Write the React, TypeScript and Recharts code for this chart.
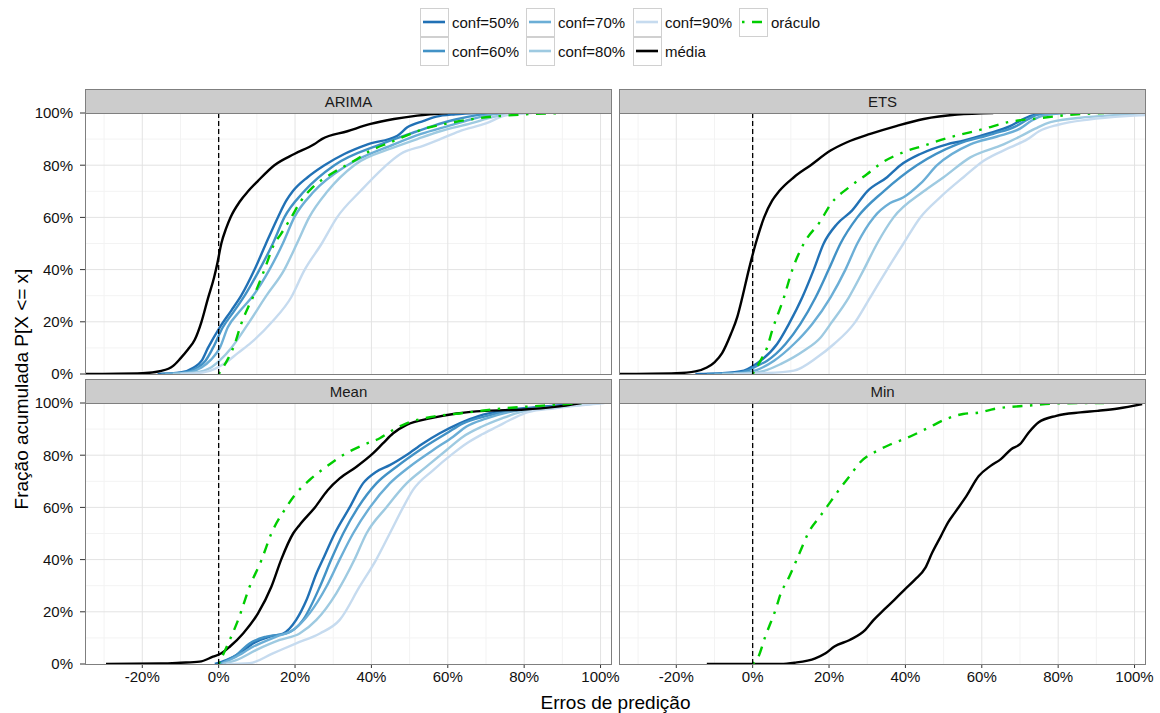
import { LineChart, Line, XAxis, YAxis, ReferenceLine } from "recharts";

type Pt = [number, number];

// axis values
const xTicks = [-20, 0, 20, 40, 60, 80, 100];
const xMinor = [-30, -10, 10, 30, 50, 70, 90];
const yTicks = [0, 20, 40, 60, 80, 100];
const yMinor = [10, 30, 50, 70, 90];
const xDomain: [number, number] = [-35, 103];

const seriesNames = ["conf=50%", "conf=60%", "conf=70%", "conf=80%", "conf=90%", "média", "oráculo"];
const panelNames = ["ARIMA", "ETS", "Mean", "Min"];

// ARIMA: [erro %, fração %]
const arimaConf50: Pt[] = [[-16, 0], [-10, 0.6], [-6.5, 2.5], [-4.5, 5], [-2.8, 10], [0.3, 17.9], [3.3, 24.3], [5.9, 30], [9.4, 40], [12.4, 50], [15.5, 60], [17.7, 66.4], [19.4, 70], [23.3, 75.4], [27.7, 80], [32.9, 84.3], [39, 88], [46.8, 91.3], [49.4, 94.5], [53.7, 97], [57, 98.6], [62, 99.5], [68, 100]];
const arimaConf60: Pt[] = [[-15, 0], [-9, 0.6], [-5.5, 2.5], [-3.5, 5], [-1.5, 10], [1.1, 17.9], [4, 24], [6.8, 30], [10.7, 40], [14.2, 50], [17.2, 60], [22.4, 70], [30.3, 80], [42.4, 88], [50, 92], [56, 95], [62, 97.5], [68, 99.3], [72, 100]];
const arimaConf70: Pt[] = [[-14, 0], [-8, 0.6], [-4.5, 2.5], [-2, 5.5], [0.3, 10], [2.4, 17.9], [5.5, 24], [9, 30], [13.3, 40], [16.8, 50], [19.8, 60], [25, 70], [33.7, 80], [45.9, 88], [53, 92], [60, 95], [66, 97.5], [71, 99.3], [75, 100]];
const arimaConf80: Pt[] = [[-12, 0], [-6, 0.6], [-2, 2.5], [0.5, 5.5], [3.3, 10], [7.7, 19.2], [12.5, 30], [17.2, 40], [20.5, 50], [23.7, 60], [28.5, 70], [35.5, 80], [45.9, 86.8], [52, 90], [58, 93], [66, 96], [72, 98.5], [78, 100]];
const arimaConf90: Pt[] = [[-10, 0], [-4, 0.6], [-1, 2], [1.5, 4], [5, 8], [8.5, 12], [14, 20], [19, 29.4], [22.4, 39.6], [27, 50], [31, 60], [37.2, 70.2], [43.3, 79.2], [47.6, 84.3], [53.7, 87.5], [58, 90], [63, 93], [70, 96], [75, 99], [82, 100]];
const arimaMedia: Pt[] = [[-35, 0], [-20, 0.3], [-15, 1.2], [-12, 3], [-10, 6], [-8, 9.5], [-6.3, 13], [-4.5, 20], [-2.8, 29], [-1.2, 37], [-0.4, 42], [0.7, 50], [2, 56], [3.1, 60], [5.5, 66], [7.7, 70], [10.3, 74], [14.6, 80], [19.8, 84.3], [25, 88], [27, 90], [33.7, 93], [39.8, 95.8], [45.9, 97.7], [52, 99], [60, 100]];
const arimaOraculo: Pt[] = [[0, 0], [2.4, 5.7], [4.2, 11.5], [5.9, 19.2], [7.7, 25.5], [9.8, 32], [12, 40], [14.6, 50], [16.3, 53.6], [19, 60], [21.6, 66.4], [24.6, 71.5], [29.4, 76.6], [35.5, 81.7], [39.8, 85.6], [45, 88.8], [50.3, 92], [53.7, 93.9], [60, 96], [68, 98], [75, 99], [90, 100]];

// ETS
const etsConf50: Pt[] = [[-15, 0], [-8, 0.3], [-2.3, 1.3], [0, 3], [2.1, 5.1], [6.4, 11.5], [9.5, 19.2], [13, 29.4], [16, 40], [18.6, 50], [22.1, 57.5], [26, 62.6], [30, 70], [35.2, 75.4], [38.7, 80], [43.9, 84.3], [50.9, 88], [55.2, 89.4], [61.3, 92], [67.4, 95], [70, 97], [73, 99], [78, 100]];
const etsConf60: Pt[] = [[-12, 0], [-5, 0.3], [-1, 1.5], [1, 3], [3.8, 5.1], [8.6, 11.5], [12.5, 19.2], [16.5, 29.4], [19.9, 40], [23, 50], [27.4, 60], [34.3, 70], [43, 80], [53.5, 88], [63, 92], [69, 95], [72, 97.5], [75, 99.5], [80, 100]];
const etsConf70: Pt[] = [[-10, 0], [-3, 0.3], [1, 1.5], [5.6, 5.1], [10.8, 11.5], [15.6, 19.2], [20.4, 29.4], [24.3, 40], [27.4, 50], [31.7, 60], [36, 65.5], [39.5, 67.7], [44, 73], [48.3, 80], [57, 88], [64, 91], [70, 94], [73, 97], [76, 99], [82, 100]];
const etsConf80: Pt[] = [[-8, 0], [-1, 0.3], [3, 1.2], [7.3, 3.8], [13.4, 8.9], [17.8, 14], [20.4, 19.2], [25.2, 29.4], [29.1, 40], [32.6, 50], [36.9, 60], [44.8, 70], [50, 75.4], [57, 83], [65.7, 88], [70, 91], [74, 94], [78, 96.5], [88, 98.5], [98, 99.5], [103, 100]];
const etsConf90: Pt[] = [[-5, 0], [3, 0.3], [10.8, 1.3], [16.9, 6.4], [21.3, 11.5], [26.5, 19.2], [30.8, 29.4], [35.2, 40], [39.5, 50], [43.9, 60], [49.1, 67.7], [55.2, 75.4], [60.5, 81.7], [67.4, 86.8], [72, 90], [75, 93], [80, 95.5], [88, 97.5], [98, 98.8], [103, 99.2]];
const etsMedia: Pt[] = [[-35, 0], [-20, 0.3], [-15, 1], [-12, 2.5], [-10, 4.5], [-8, 8], [-5.7, 15.3], [-4, 22], [-2.7, 29.4], [-1, 40], [0.8, 50], [3, 60], [5.1, 66.4], [6.9, 70], [10.8, 75.4], [15.2, 80], [20.4, 85.6], [24.7, 88.8], [30.8, 92], [37.8, 95.1], [44.8, 97.7], [53.5, 99.4], [63, 100]];
const etsOraculo: Pt[] = [[0, 0], [2, 5], [3.8, 10.2], [5.1, 16.6], [8.2, 29.4], [10.4, 40], [13.4, 50], [17.8, 58.7], [20.4, 65], [25.2, 71.5], [30, 76.6], [33.4, 80.5], [39.5, 85], [44.8, 87.5], [51.7, 90.7], [60.5, 93.9], [66.6, 96.4], [75, 98], [85, 99.5], [92, 100]];

// Mean
const meanConf50: Pt[] = [[-1, 0], [2, 1.5], [5.5, 4.1], [9, 7.9], [13.4, 10.5], [16.9, 11.7], [20.3, 16.9], [23, 24.5], [25.6, 34.7], [27.3, 40.1], [30.4, 50], [34.3, 60], [37.8, 69.2], [41.3, 73.7], [44.8, 76.2], [49.2, 80.1], [53.5, 84.5], [57.9, 88.4], [63.1, 92.2], [68, 95], [74, 97], [80, 98], [88, 99], [97, 100]];
const meanConf60: Pt[] = [[0, 0], [4.6, 3.4], [8.1, 7.9], [12.5, 10.5], [17.7, 11.7], [22.1, 16.9], [26.5, 29.6], [29.5, 40.1], [32.6, 50], [36.5, 60], [41.3, 69.2], [46.6, 75.6], [52.7, 82], [59.7, 88.4], [64, 92.2], [70, 95], [76, 97], [82, 98], [90, 99], [98, 100]];
const meanConf70: Pt[] = [[0.5, 0], [4.6, 2.8], [9, 6.6], [15.1, 10.5], [19.5, 13], [23.8, 19.4], [28.2, 29.6], [31.7, 40.1], [35.2, 50], [39.6, 60], [44.8, 69.2], [50, 75.6], [56.2, 82], [61.4, 87.1], [64.9, 91], [70, 94], [76, 96.5], [84, 98], [91, 99], [99, 100]];
const meanConf80: Pt[] = [[1, 0], [4.6, 1.5], [9.9, 5.4], [16, 9.2], [21.2, 11.7], [25.6, 16.9], [30.8, 27.1], [35.6, 40.1], [38.7, 50], [43.9, 60], [49.2, 69.2], [54.4, 75.6], [59.7, 82], [64, 87.1], [69, 91], [74, 94], [79, 96.5], [86, 98], [93, 99], [100, 100]];
const meanConf90: Pt[] = [[2, 0], [8.1, 0.3], [14.2, 4.1], [20.3, 7.9], [26.5, 11.7], [31.7, 16.9], [36.9, 29.6], [41.3, 40.1], [44.8, 50], [48.3, 60], [50.9, 66.7], [56.2, 74.3], [61.4, 80.7], [64.9, 84.5], [69, 88], [73, 91], [77, 94], [81, 96.5], [88, 98], [94, 99], [101, 100]];
const meanMedia: Pt[] = [[-29.5, 0], [-15, 0.2], [-10, 0.5], [-5, 0.9], [-1.5, 2.8], [0.7, 4.1], [2.9, 6.6], [6.4, 11.7], [10.3, 19.4], [13.8, 29.6], [16.4, 40.1], [19.5, 50], [21.2, 53.3], [25.2, 60], [28.6, 66.7], [31.7, 71.1], [36.1, 75.6], [40.4, 80.7], [43, 84.5], [45.7, 88.4], [49.2, 91.6], [55.3, 94.1], [62.3, 96], [70, 97], [80, 97.5], [88, 98.5], [95, 100]];
const meanOraculo: Pt[] = [[0, 0], [2.9, 9.2], [5.1, 16.9], [8.1, 29.6], [11.2, 39.8], [13.8, 50], [17.7, 60], [20.3, 65.4], [23.8, 70.5], [28.2, 75.6], [32.6, 80.1], [37.8, 83.9], [42.2, 86.5], [45.7, 89.7], [49.2, 92.2], [56.2, 94.8], [63.1, 96], [75, 98], [85, 99], [95, 100]];

// Min
const minMedia: Pt[] = [[-12, 0], [7.4, 0], [11, 0.5], [16.4, 2.2], [19.1, 4.1], [21.4, 6.7], [25.4, 9.2], [29.5, 13.1], [31.7, 16.9], [34.4, 20.8], [37.1, 24.6], [39.8, 28.5], [42.5, 32.3], [45.2, 36.8], [47, 42.6], [49.3, 49], [51.1, 54.1], [52.9, 57.9], [56, 64.4], [59.2, 72], [62.3, 75.9], [65, 78.5], [67.7, 82.3], [70, 84.2], [72.3, 88.7], [74.9, 92.6], [79.5, 95.1], [85.8, 96.4], [90.3, 97], [95.7, 97.9], [102, 99.6]];
const minOraculo: Pt[] = [[0, 0], [1.5, 2.8], [3.3, 10.5], [6, 20.8], [7.4, 27.2], [9.2, 32.3], [12.3, 42.6], [14.6, 50.3], [17.7, 56.7], [20.5, 62.4], [22.7, 66.9], [25.4, 72], [28.1, 77.2], [32.6, 81.7], [36.2, 84.2], [40.7, 86.8], [46.1, 90.6], [50.6, 93.8], [55.1, 95.8], [59.6, 96.4], [63.2, 97.7], [72.3, 99], [81.3, 99.9], [92, 100]];

const panelSeries: (Pt[] | null)[][] = [
  [arimaConf50, arimaConf60, arimaConf70, arimaConf80, arimaConf90, arimaMedia, arimaOraculo],
  [etsConf50, etsConf60, etsConf70, etsConf80, etsConf90, etsMedia, etsOraculo],
  [meanConf50, meanConf60, meanConf70, meanConf80, meanConf90, meanMedia, meanOraculo],
  [null, null, null, null, null, minMedia, minOraculo],
];

const colors = ["#2171b5", "#4292c6", "#6baed6", "#9ecae1", "#c6dbef", "#000000", "#00cd00"];
const dotdash = "2.5 7.5 10 7.5";

const font = "'Liberation Sans', Arial, Helvetica, sans-serif";
const plotLeft = [85, 619];
const plotTop = [113, 403];
const plotW = 527;
const plotH = 261;
const pad = 10; // room around the plot so edge tick labels are not cut
const padRight = 22;
const gridMajor = "#e3e3e3";
const gridMinor = "#f3f3f3";
const border = "#7f7f7f";

const pct = (v: number) => `${v}%`;

function Panel({ idx }: { idx: number }) {
  const col = idx % 2;
  const row = Math.floor(idx / 2);
  const showY = col === 0;
  const showX = row === 1;
  const yW = showY ? 85 : 0;
  const xH = showX ? 36 : 0;
  const bottomPad = showX ? 0 : pad;
  const list = panelSeries[idx];
  return (
    <>
      <div
        style={{
          position: "absolute",
          left: plotLeft[col],
          top: plotTop[row] - 24,
          width: plotW,
          height: 25,
          boxSizing: "border-box",
          background: "#cccccc",
          border: `1px solid ${border}`,
          textAlign: "center",
          fontSize: 15,
          lineHeight: "23px",
          color: "#1a1a1a",
        }}
      >
        {panelNames[idx]}
      </div>
      <div style={{ position: "absolute", left: plotLeft[col] - yW, top: plotTop[row] - pad }}>
        <LineChart
          width={plotW + yW + padRight}
          height={plotH + xH + pad + bottomPad}
          margin={{ top: pad, right: padRight, bottom: bottomPad, left: 0 }}
        >
          <XAxis
            type="number"
            dataKey="x"
            domain={xDomain}
            ticks={xTicks}
            allowDataOverflow
            hide={!showX}
            height={xH}
            tickFormatter={pct}
            axisLine={false}
            tickSize={4}
            tickMargin={3}
            interval={0}
            tickLine={{ stroke: "#333" }}
            tick={{ fontSize: 15, fill: "#111", fontFamily: font }}
          />
          <YAxis
            type="number"
            domain={[0, 100]}
            ticks={yTicks}
            allowDataOverflow
            hide={!showY}
            width={yW}
            tickFormatter={pct}
            axisLine={false}
            tickSize={5}
            tickMargin={7}
            interval={0}
            tickLine={{ stroke: "#333" }}
            tick={{ fontSize: 15, fill: "#111", fontFamily: font }}
          />
          {xMinor.map((v) => (
            <ReferenceLine key={`xm${v}`} x={v} stroke={gridMinor} strokeWidth={1} />
          ))}
          {yMinor.map((v) => (
            <ReferenceLine key={`ym${v}`} y={v} stroke={gridMinor} strokeWidth={1} />
          ))}
          {xTicks.map((v) => (
            <ReferenceLine key={`xM${v}`} x={v} stroke={gridMajor} strokeWidth={1} />
          ))}
          {yTicks.slice(1, -1).map((v) => (
            <ReferenceLine key={`yM${v}`} y={v} stroke={gridMajor} strokeWidth={1} />
          ))}
          {list.map((pts, i) =>
            pts ? (
              <Line
                key={seriesNames[i]}
                data={pts.map(([x, y]) => ({ x, y }))}
                dataKey="y"
                type="monotone"
                stroke={colors[i]}
                strokeWidth={2.4}
                strokeDasharray={i === 6 ? dotdash : undefined}
                dot={false}
                activeDot={false}
                isAnimationActive={false}
              />
            ) : null
          )}
          <ReferenceLine x={0} stroke="#000" strokeWidth={1.3} strokeDasharray="5 3" />
        </LineChart>
      </div>
      <div
        style={{
          position: "absolute",
          left: plotLeft[col],
          top: plotTop[row],
          width: plotW,
          height: plotH + 1,
          boxSizing: "border-box",
          border: `1px solid ${border}`,
          pointerEvents: "none",
        }}
      />
    </>
  );
}

const legendCols = [420, 526, 633, 739];
const legendRows = [8, 37];
// column-major order, as ggplot fills the legend
const legendSlots: [number, number][] = [[0, 0], [0, 1], [1, 0], [1, 1], [2, 0], [2, 1], [3, 0]];

function Legend() {
  return (
    <>
      {seriesNames.map((name, i) => {
        const [c, r] = legendSlots[i];
        const left = legendCols[c];
        const top = legendRows[r];
        return (
          <div key={name}>
            <div
              style={{
                position: "absolute",
                left,
                top,
                width: 29,
                height: 29,
                boxSizing: "border-box",
                border: "1.5px solid #d0d0d0",
                background: "#fff",
              }}
            >
              <svg width={26} height={26} style={{ display: "block" }}>
                <line
                  x1={2}
                  x2={24}
                  y1={13}
                  y2={13}
                  stroke={colors[i]}
                  strokeWidth={2.6}
                  strokeDasharray={i === 6 ? dotdash : undefined}
                />
              </svg>
            </div>
            <div
              style={{
                position: "absolute",
                left: left + 32,
                top,
                height: 29,
                lineHeight: "29px",
                fontSize: 15,
                color: "#111",
                whiteSpace: "nowrap",
              }}
            >
              {name}
            </div>
          </div>
        );
      })}
    </>
  );
}

export default function App() {
  return (
    <div
      style={{
        position: "absolute",
        left: 0,
        top: 0,
        width: 1160,
        height: 713,
        background: "#fff",
        fontFamily: font,
        overflow: "hidden",
      }}
    >
      <Legend />
      {panelNames.map((n, i) => (
        <Panel key={n} idx={i} />
      ))}
      <div
        style={{
          position: "absolute",
          left: 615.5,
          top: 703,
          transform: "translate(-50%, -50%)",
          fontSize: 19,
          color: "#000",
          whiteSpace: "nowrap",
        }}
      >
        Erros de predição
      </div>
      <div
        style={{
          position: "absolute",
          left: 22,
          top: 388.5,
          transform: "translate(-50%, -50%) rotate(-90deg)",
          fontSize: 19,
          color: "#000",
          whiteSpace: "nowrap",
        }}
      >
        Fração acumulada P[X &lt;= x]
      </div>
    </div>
  );
}
